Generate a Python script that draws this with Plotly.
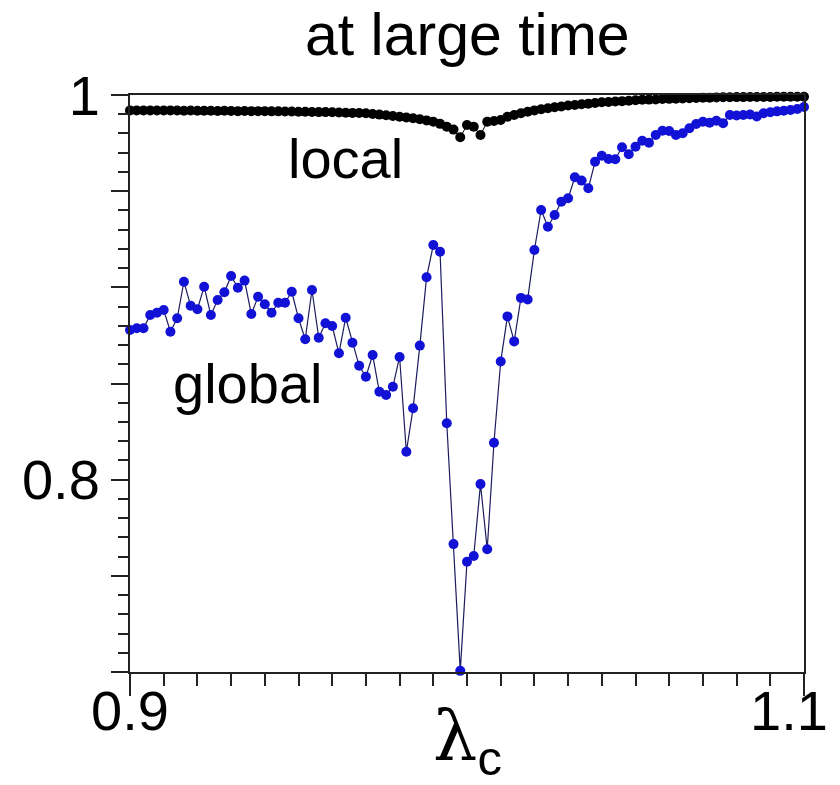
import plotly.graph_objects as go

# x positions: lambda_c from 0.9 to 1.1 in steps of 0.002 (101 points)
lam = [round(0.9 + 0.002 * i, 3) for i in range(101)]

local_vals = [
    0.9920, 0.9920, 0.9919, 0.9920, 0.9919, 0.9919, 0.9920, 0.9919, 0.9918, 0.9919,
    0.9918, 0.9918, 0.9918, 0.9917, 0.9918, 0.9917, 0.9916, 0.9917, 0.9916, 0.9916,
    0.9916, 0.9915, 0.9915, 0.9914, 0.9914, 0.9913, 0.9913, 0.9912, 0.9911, 0.9911,
    0.9910, 0.9909, 0.9908, 0.9907, 0.9906, 0.9905, 0.9901, 0.9898, 0.9895, 0.9891,
    0.9887, 0.9883, 0.9879, 0.9874, 0.9868, 0.9861, 0.9850, 0.9835, 0.9820, 0.9780,
    0.9844, 0.9835, 0.9792, 0.9861, 0.9865, 0.9870, 0.9887, 0.9896, 0.9905, 0.9913,
    0.9920, 0.9926, 0.9931, 0.9936, 0.9940, 0.9945, 0.9948, 0.9952, 0.9955, 0.9958,
    0.9962, 0.9964, 0.9966, 0.9968, 0.9970, 0.9973, 0.9975, 0.9976, 0.9977, 0.9979,
    0.9980, 0.9981, 0.9982, 0.9983, 0.9984, 0.9986, 0.9986, 0.9987, 0.9988, 0.9988,
    0.9989, 0.9989, 0.9990, 0.9990, 0.9990, 0.9990, 0.9991, 0.9991, 0.9991, 0.9991,
    0.9991,
]

global_vals = [
    0.8778, 0.8787, 0.8787, 0.8856, 0.8868, 0.8882, 0.8769, 0.8839, 0.9029, 0.8904,
    0.8886, 0.9003, 0.8856, 0.8934, 0.8974, 0.9059, 0.8998, 0.9035, 0.8861, 0.8951,
    0.8912, 0.8868, 0.8920, 0.8920, 0.8977, 0.8839, 0.8730, 0.8986, 0.8738, 0.8813,
    0.8799, 0.8657, 0.8842, 0.8712, 0.8592, 0.8535, 0.8648, 0.8457, 0.8440, 0.8483,
    0.8638, 0.8145, 0.8371, 0.8697, 0.9052, 0.9220, 0.9185, 0.8293, 0.7665, 0.7006,
    0.7573, 0.7603, 0.7977, 0.7638, 0.8192, 0.8614, 0.8849, 0.8719, 0.8945, 0.8937,
    0.9194, 0.9402, 0.9315, 0.9376, 0.9445, 0.9463, 0.9572, 0.9555, 0.9515, 0.9653,
    0.9684, 0.9667, 0.9666, 0.9728, 0.9692, 0.9731, 0.9762, 0.9752, 0.9792, 0.9814,
    0.9813, 0.9792, 0.9801, 0.9827, 0.9849, 0.9861, 0.9856, 0.9866, 0.9853, 0.9896,
    0.9893, 0.9896, 0.9899, 0.9888, 0.9905, 0.9910, 0.9915, 0.9918, 0.9922, 0.9927,
    0.9938,
]

y_tickvals = [0.7, 0.75, 0.8, 0.85, 0.9, 0.95, 1.0]
y_ticktext = ["", "", "0.8", "", "", "", "1"]
x_tickvals = [0.9, 1.1]
x_ticklabels = ["0.9", "1.1"]

FONT = "Liberation Sans, Arial, sans-serif"

fig = go.Figure()
fig.add_trace(go.Scatter(
    x=lam, y=global_vals, mode="lines+markers",
    line=dict(color="#1c1c5e", width=1.2),
    marker=dict(color="#1212d6", size=10),
    showlegend=False, cliponaxis=False,
))
fig.add_trace(go.Scatter(
    x=lam, y=local_vals, mode="lines+markers",
    line=dict(color="#000000", width=1),
    marker=dict(color="#000000", size=10),
    showlegend=False, cliponaxis=False,
))

fig.update_layout(
    width=840, height=785,
    margin=dict(l=130, r=36, t=95, b=113),
    paper_bgcolor="white", plot_bgcolor="white",
    font=dict(family=FONT, color="black", size=56),
    xaxis=dict(
        range=[0.9, 1.1], showgrid=False, zeroline=False,
        showline=True, linecolor="#222", linewidth=2, mirror=True,
        tickvals=x_tickvals, ticktext=["", ""], ticks="outside",
        ticklen=22, tickwidth=2, tickcolor="#222",
        minor=dict(dtick=0.01, tick0=0.9, ticks="outside", ticklen=12,
                   tickwidth=2, tickcolor="#222"),
    ),
    yaxis=dict(
        range=[0.7, 1.0], showgrid=False, zeroline=False,
        showline=True, linecolor="#222", linewidth=2, mirror=True,
        tickvals=y_tickvals, ticktext=y_ticktext, ticks="outside",
        ticklen=17, tickwidth=2, tickcolor="#222",
        tickfont=dict(size=56, family=FONT),
        minor=dict(dtick=0.01, tick0=0.7, ticks="outside", ticklen=10,
                   tickwidth=2, tickcolor="#222"),
    ),
)

plot_h = 785 - 95 - 113
annotations = [
    dict(text="at large time", x=0.5, xref="paper", y=1 + (95 - 35) / plot_h, yref="paper",
         yanchor="middle", xanchor="center", showarrow=False,
         font=dict(size=59, family=FONT)),
    dict(text="local", x=0.9 + 0.2 * (345 - 130) / 674, xref="x", y=0.967, yref="y",
         xanchor="center", yanchor="middle", showarrow=False,
         font=dict(size=56, family=FONT)),
    dict(text="global", x=0.9 + 0.2 * (247 - 130) / 674, xref="x", y=0.8502, yref="y",
         xanchor="center", yanchor="middle", showarrow=False,
         font=dict(size=56, family=FONT)),
    dict(text=x_ticklabels[0], x=x_tickvals[0], xref="x", y=0, yref="paper",
         yshift=-38, xanchor="center", yanchor="middle", showarrow=False,
         font=dict(size=56, family=FONT)),
    dict(text=x_ticklabels[1], x=x_tickvals[1], xref="x", y=0, yref="paper",
         yshift=-38, xshift=-15, xanchor="center", yanchor="middle", showarrow=False,
         font=dict(size=56, family=FONT)),
    dict(text="λ<sub><span style='font-family:Liberation Sans'>c</span></sub>",
         x=0.5, xref="paper", y=0, yref="paper", yshift=-68,
         xanchor="center", yanchor="middle", showarrow=False,
         font=dict(size=70, family="DejaVu Serif, Liberation Serif, serif")),
]
fig.update_layout(annotations=annotations)

fig.write_html("out.html")
